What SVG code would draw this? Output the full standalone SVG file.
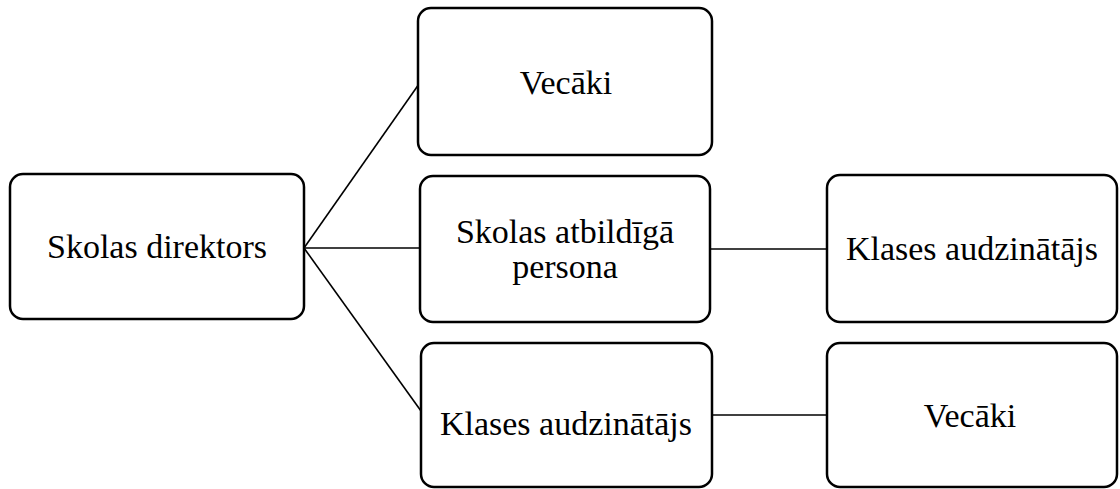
<svg xmlns="http://www.w3.org/2000/svg" width="1120" height="489" viewBox="0 0 1120 489">
<style>
.box{fill:#fff;stroke:#000;stroke-width:2.5}
.lbl{font-family:"Liberation Serif","Times New Roman",serif;font-size:34px;fill:#000;text-anchor:middle}
.con{stroke:#000;stroke-width:1.6;fill:none}
</style>
<rect width="1120" height="489" fill="#fff"/>
<g id="connectors">
<line class="con" x1="304" y1="248" x2="419" y2="84"/>
<line class="con" x1="304" y1="248" x2="420" y2="248"/>
<line class="con" x1="304" y1="248" x2="421" y2="411"/>
<line class="con" x1="710" y1="249" x2="827" y2="249"/>
<line class="con" x1="712" y1="415" x2="827" y2="415"/>
</g>
<g id="node-director">
<rect class="box" x="10" y="174" width="294" height="145" rx="13"/>
<text class="lbl" x="157" y="258">Skolas direktors</text>
</g>
<g id="node-vecaki1">
<rect class="box" x="418" y="8" width="294" height="147" rx="13"/>
<text class="lbl" x="566" y="94">Vecāki</text>
</g>
<g id="node-atbildiga">
<rect class="box" x="420" y="176" width="290" height="146" rx="13"/>
<text class="lbl" x="565" y="243">Skolas atbildīgā</text>
<text class="lbl" x="565" y="278">persona</text>
</g>
<g id="node-klases1">
<rect class="box" x="421" y="343" width="291" height="144" rx="13"/>
<text class="lbl" x="566" y="435">Klases audzinātājs</text>
</g>
<g id="node-klases2">
<rect class="box" x="827" y="175" width="290" height="147" rx="13"/>
<text class="lbl" x="972" y="260">Klases audzinātājs</text>
</g>
<g id="node-vecaki2">
<rect class="box" x="827" y="343" width="290" height="144" rx="13"/>
<text class="lbl" x="970" y="427">Vecāki</text>
</g>
</svg>
